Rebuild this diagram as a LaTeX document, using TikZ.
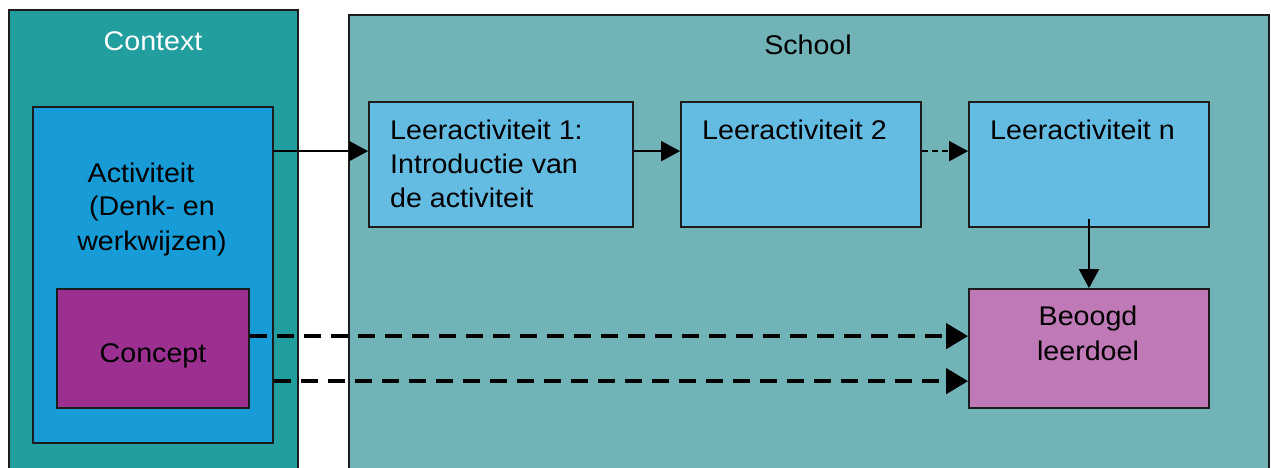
\documentclass[tikz,border=0pt]{standalone}
\usepackage{fontspec}
\setmainfont[FakeStretch=1.06]{Liberation Sans}
\usetikzlibrary{arrows.meta}
\definecolor{edge}{HTML}{1C1C1C}
\definecolor{contextfill}{HTML}{239E9E}
\definecolor{schoolfill}{HTML}{71B3B7}
\definecolor{actfill}{HTML}{179CD8}
\definecolor{conceptfill}{HTML}{9B3090}
\definecolor{stepfill}{HTML}{65BCE3}
\definecolor{goalfill}{HTML}{BF79B6}
\begin{document}
\begin{tikzpicture}[x=1pt,y=-1pt,
  every node/.style={font=\fontsize{27}{34}\selectfont},
  box/.style={draw=edge, line width=1.8pt, inner sep=0pt, rectangle},
  txt/.style={inner sep=0pt, text=black},
  flow/.style={line width=1.9pt, -{Triangle[length=19pt,width=20pt]}},
  flowdash/.style={flow, dash pattern=on 6pt off 4pt},
  link/.style={line width=4.5pt, dash pattern=on 17pt off 10pt,
    -{Triangle[length=22pt,width=25pt]}}]
\useasboundingbox (0,0) rectangle (1271,467);
\clip (0,0) rectangle (1271,467);

% outer frames
\node[box, fill=contextfill, minimum width=289pt, minimum height=470pt] (ctx) at (153.5,245) {};
\node[box, fill=schoolfill, minimum width=920pt, minimum height=465pt] (school) at (809,247.5) {};
\node[txt, anchor=base, text=white] (ctxlabel) at (153,50) {Context};
\node[txt, anchor=base] (schoollabel) at (808,54) {School};

% context side
\node[box, fill=actfill, minimum width=240pt, minimum height=336pt] (act) at (153,275) {};
\node[box, fill=conceptfill, minimum width=192pt, minimum height=119pt] (concept) at (153,348.5) {};
\node[txt, anchor=base] (actl1) at (141,182) {Activiteit};
\node[txt, anchor=base] (actl2) at (152,215) {(Denk- en};
\node[txt, anchor=base] (actl3) at (152,250) {werkwijzen)};
\node[txt, anchor=base] (conceptlabel) at (153,362) {Concept};

% learning activities
\node[box, fill=stepfill, minimum width=264pt, minimum height=125pt] (l1) at (501,164.5) {};
\node[box, fill=stepfill, minimum width=240pt, minimum height=125pt] (l2) at (801,164.5) {};
\node[box, fill=stepfill, minimum width=240pt, minimum height=125pt] (ln) at (1089,164.5) {};
\node[box, fill=goalfill, minimum width=240pt, minimum height=119pt] (goal) at (1089,348.5) {};

\node[txt, anchor=base west] (l1a) at (390,139) {Leeractiviteit 1:};
\node[txt, anchor=base west] (l1b) at (390,173) {Introductie van};
\node[txt, anchor=base west] (l1c) at (390,207) {de activiteit};
\node[txt, anchor=base west] (l2label) at (702,139) {Leeractiviteit 2};
\node[txt, anchor=base west] (lnlabel) at (990,139) {Leeractiviteit n};
\node[txt, anchor=base] (goala) at (1088,325) {Beoogd};
\node[txt, anchor=base] (goalb) at (1088,360) {leerdoel};

% connectors
\coordinate (actout) at ([yshift=-45pt]act.north east);
\draw[flow] (actout) -- (actout -| l1.west);
\draw[flow] ([yshift=-50pt]l1.north east) -- ([yshift=-50pt]l2.north west);
\draw[flowdash] ([yshift=-50pt]l2.north east) -- ([yshift=-50pt]ln.north west);
\draw[flow] ([yshift=9pt]ln.south) -- (goal.north);
\draw[link] ([yshift=-48pt]concept.north east) -- ([yshift=-48pt]goal.north west);
\coordinate (actlow) at ([yshift=-275pt]act.north east);
\draw[link] (actlow) -- (actlow -| goal.west);
\end{tikzpicture}
\end{document}
